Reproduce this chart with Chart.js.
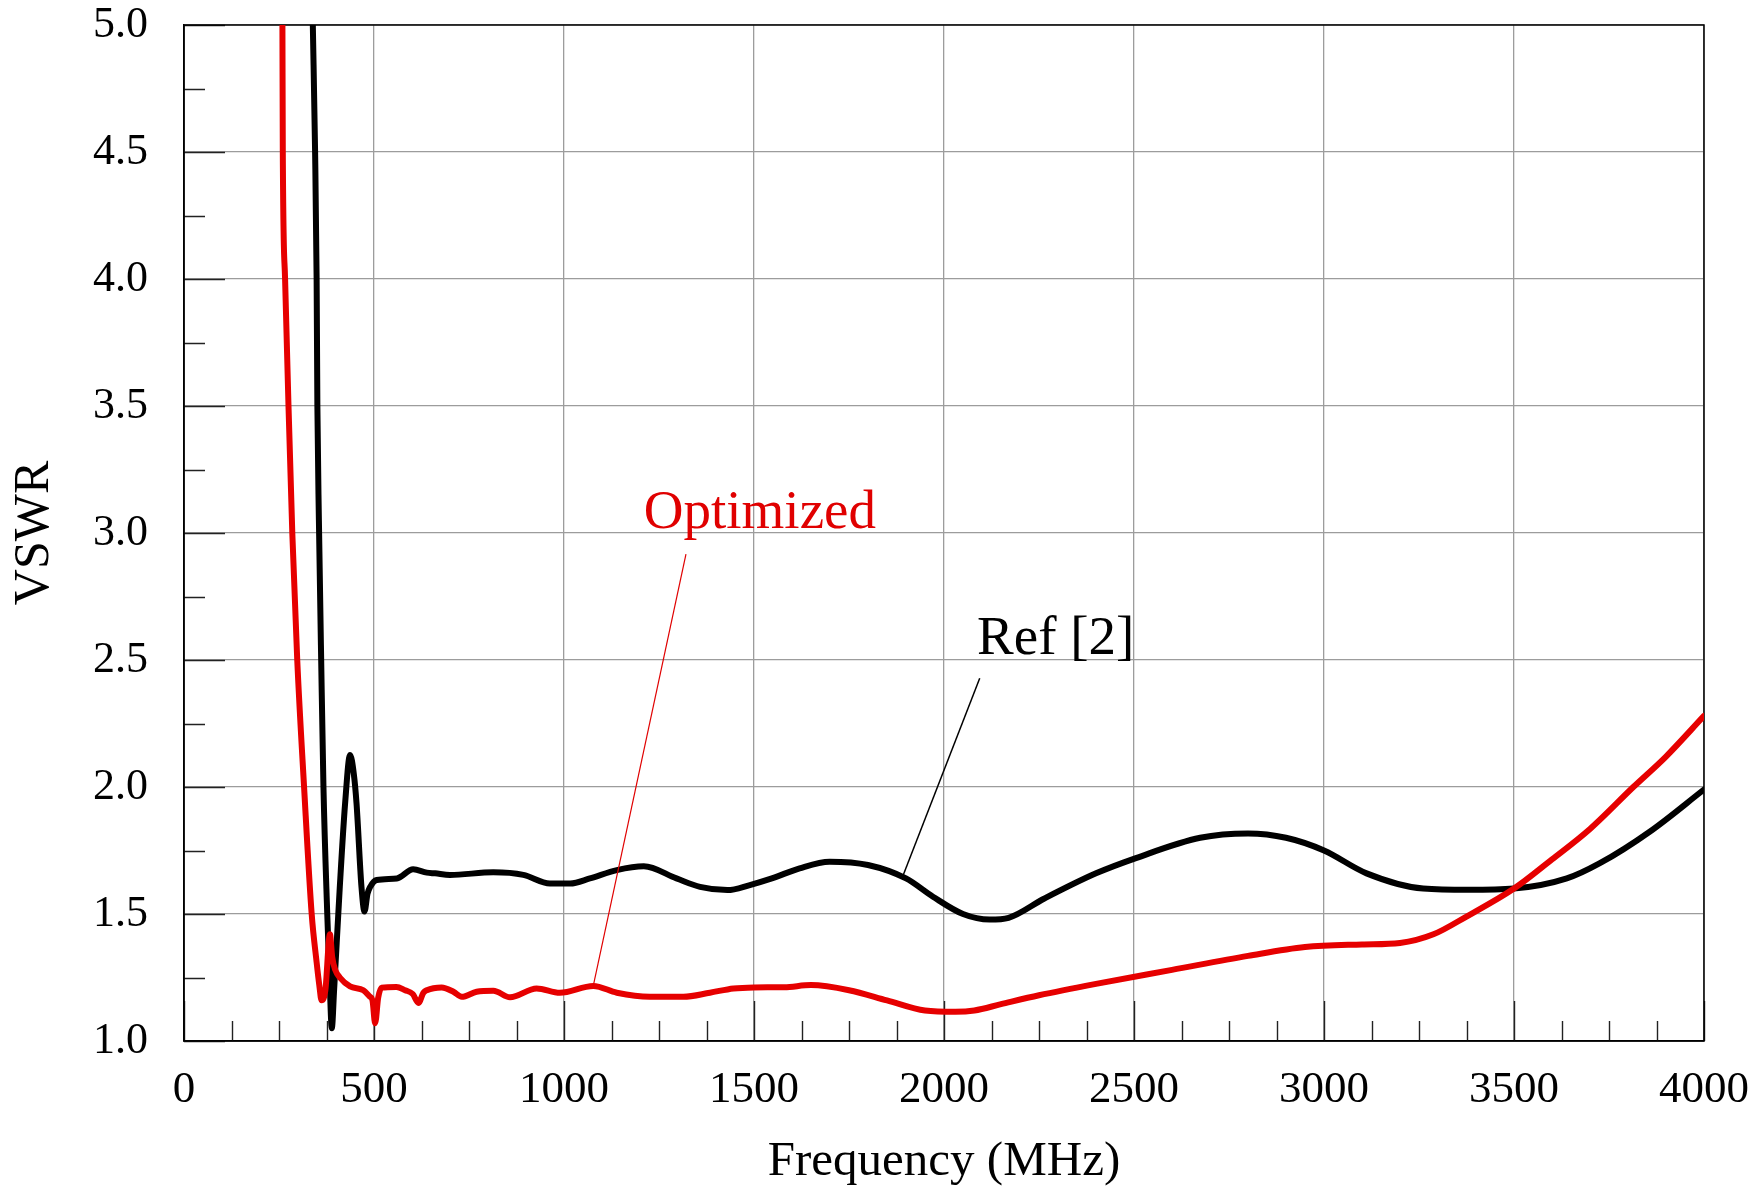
<!DOCTYPE html>
<html>
<head>
<meta charset="utf-8">
<title>VSWR vs Frequency</title>
<script src="https://cdn.jsdelivr.net/npm/chart.js@4/dist/chart.umd.min.js"></script>
<style>
  html, body { margin:0; padding:0; background:#fff; }
  canvas { display:block; }
</style>
</head>
<body>
<canvas id="vswr" width="1757" height="1192"></canvas>
<script>
'use strict';

// ── Data ─────────────────────────────────────────────────────────────────────
// Optimized antenna
var optFreq = [259, 260, 266, 275, 285, 298, 316, 336, 349, 356, 362, 372, 384, 390, 398, 410,
  437, 472, 489, 496, 503, 511, 520, 559, 582, 602, 617, 630, 639, 678, 709, 731, 770, 814, 858,
  928, 989, 1077, 1139, 1226, 1314, 1384, 1446, 1500, 1580, 1650, 1750, 1850, 1950, 2030, 2080,
  2150, 2250, 2400, 2600, 2800, 2950, 3100, 3200, 3288, 3375, 3500, 3600, 3700, 3814, 3900, 4000];
var optVswr = [5.0, 4.5, 4.0, 3.5, 3.0, 2.5, 2.0, 1.5, 1.31, 1.22, 1.16, 1.20, 1.42, 1.33, 1.28, 1.25,
  1.215, 1.20, 1.175, 1.16, 1.07, 1.17, 1.21, 1.213, 1.20, 1.185, 1.15, 1.19, 1.20, 1.211, 1.194, 1.174, 1.194, 1.198, 1.172,
  1.207, 1.19, 1.217, 1.19, 1.174, 1.174, 1.19, 1.207, 1.211, 1.212, 1.22, 1.20, 1.16, 1.12, 1.115, 1.12,
  1.145, 1.18, 1.225, 1.28, 1.335, 1.37, 1.38, 1.386, 1.42, 1.49, 1.60, 1.715, 1.835, 2.0, 2.12, 2.28];

// Ref [2]
var refFreq = [339, 345, 349, 351, 355, 361, 367, 377, 383, 389, 395, 410, 424, 437, 447, 454, 467,
  475, 483, 490, 507, 560, 603, 639, 661, 700, 814, 893, 963, 1016, 1068, 1139, 1210, 1296, 1358,
  1430, 1489, 1547, 1620, 1699, 1800, 1900, 1971, 2050, 2120, 2170, 2263, 2400, 2505, 2674, 2800,
  2900, 3000, 3112, 3261, 3380, 3500, 3639, 3726, 3858, 4000];
var refVswr = [5.0, 4.5, 4.0, 3.5, 3.05, 2.5, 2.0, 1.5, 1.25, 1.05, 1.2, 1.607, 1.936, 2.126, 2.05, 1.936, 1.607,
  1.51, 1.58, 1.607, 1.634, 1.64, 1.676, 1.663, 1.66, 1.654, 1.664, 1.654, 1.62, 1.62, 1.64, 1.673, 1.688, 1.64, 1.607,
  1.594, 1.614, 1.64, 1.68, 1.706, 1.693, 1.64, 1.568, 1.50, 1.478, 1.485, 1.56, 1.66, 1.72, 1.80, 1.817,
  1.80, 1.75, 1.66, 1.60, 1.595, 1.60, 1.64, 1.70, 1.825, 1.99];

// axes
var xMin = 0, xMax = 4000, xMajor = 500, xMinor = 125;
var yMin = 1.0, yMax = 5.0, yMajor = 0.5, yMinor = 0.25;

// annotation labels: text anchor + leader line (data coords)
var labels = [
  { text:'Optimized', color:'#e00000', at:[1210, 3.02], from:[1321, 2.917], to:[1077, 1.217], lw:1.2 },
  { text:'Ref [2]',   color:'#000000', at:[2087, 2.524], from:[2094, 2.428], to:[1890, 1.643], lw:1.5 }
];

// ── Helpers ──────────────────────────────────────────────────────────────────
var SERIF = "'Liberation Serif', 'Times New Roman', serif";
function pts(xs, ys) { return xs.map(function(x, i) { return { x:x, y:ys[i] }; }); }

// inward ticks, black frame, annotations
var frameTicks = {
  id: 'frameTicks',
  beforeDatasetsDraw: function(chart) {
    var c = chart.ctx, a = chart.chartArea, sx = chart.scales.x, sy = chart.scales.y, v, p, len;
    c.save();
    c.strokeStyle = '#222'; c.lineWidth = 1.4;
    c.beginPath();
    for (v = xMin; v <= xMax + 1e-6; v += xMinor) {
      p = Math.round(sx.getPixelForValue(v)) + 0.5;
      len = (Math.abs(v / xMajor - Math.round(v / xMajor)) < 1e-6) ? 40 : 20;
      c.moveTo(p, a.bottom); c.lineTo(p, a.bottom - len);
    }
    for (v = yMin; v <= yMax + 1e-6; v += yMinor) {
      p = Math.round(sy.getPixelForValue(v)) + 0.5;
      len = (Math.abs(v / yMajor - Math.round(v / yMajor)) < 1e-6) ? 41 : 21;
      c.moveTo(a.left, p); c.lineTo(a.left + len, p);
    }
    c.stroke();
    c.strokeStyle = '#000'; c.lineWidth = 1.5;
    c.strokeRect(a.left, a.top, a.right - a.left, a.bottom - a.top);
    c.restore();
  },
  afterDatasetsDraw: function(chart) {
    var c = chart.ctx, sx = chart.scales.x, sy = chart.scales.y;
    c.save();
    labels.forEach(function(l) {
      c.strokeStyle = l.color; c.lineWidth = l.lw;
      c.beginPath();
      c.moveTo(sx.getPixelForValue(l.from[0]), sy.getPixelForValue(l.from[1]));
      c.lineTo(sx.getPixelForValue(l.to[0]), sy.getPixelForValue(l.to[1]));
      c.stroke();
      c.fillStyle = l.color;
      c.font = '55px ' + SERIF;
      c.textAlign = 'left'; c.textBaseline = 'alphabetic';
      c.fillText(l.text, sx.getPixelForValue(l.at[0]), sy.getPixelForValue(l.at[1]));
    });
    c.restore();
  }
};

// ── Chart ────────────────────────────────────────────────────────────────────
new Chart(document.getElementById('vswr'), {
  type: 'scatter',
  data: {
    datasets: [
      { label:'Optimized', data:pts(optFreq, optVswr), showLine:true, borderColor:'#e60000', borderWidth:6,
        pointRadius:0, cubicInterpolationMode:'monotone', borderCapStyle:'round', borderJoinStyle:'round' },
      { label:'Ref [2]', data:pts(refFreq, refVswr), showLine:true, borderColor:'#000000', borderWidth:6,
        pointRadius:0, cubicInterpolationMode:'monotone', borderCapStyle:'round', borderJoinStyle:'round' }
    ]
  },
  options: {
    responsive:false, animation:false, devicePixelRatio:1,
    layout: { padding:{ top:25, right:53, bottom:0, left:0 } },
    plugins: { legend:{ display:false }, tooltip:{ enabled:false } },
    scales: {
      x: {
        type:'linear', min:xMin, max:xMax,
        ticks: { stepSize:xMajor, padding:22, color:'#000', font:{ family:SERIF, size:45 },
                 callback:function(v) { return String(v); } },
        grid: { color:'#9c9c9c', lineWidth:1.3, drawTicks:false },
        border: { color:'#000', width:1.5 },
        title: { display:true, text:'Frequency (MHz)', color:'#000', font:{ family:SERIF, size:49 }, padding:0 },
        afterFit: function(s) { s.height = 151; s.paddingLeft = 0; s.paddingRight = 0; }
      },
      y: {
        type:'linear', min:yMin, max:yMax,
        ticks: { stepSize:yMajor, padding:36, color:'#000', font:{ family:SERIF, size:44 },
                 callback:function(v) { return v.toFixed(1); } },
        grid: { color:'#9c9c9c', lineWidth:1.3, drawTicks:false },
        border: { color:'#000', width:1.5 },
        title: { display:true, text:'VSWR', color:'#000', font:{ family:SERIF, size:50 }, padding:{ top:5, bottom:0 } },
        afterFit: function(s) { s.width = 184; s.paddingTop = 0; s.paddingBottom = 0; }
      }
    }
  },
  plugins: [frameTicks]
});
</script>
</body>
</html>
